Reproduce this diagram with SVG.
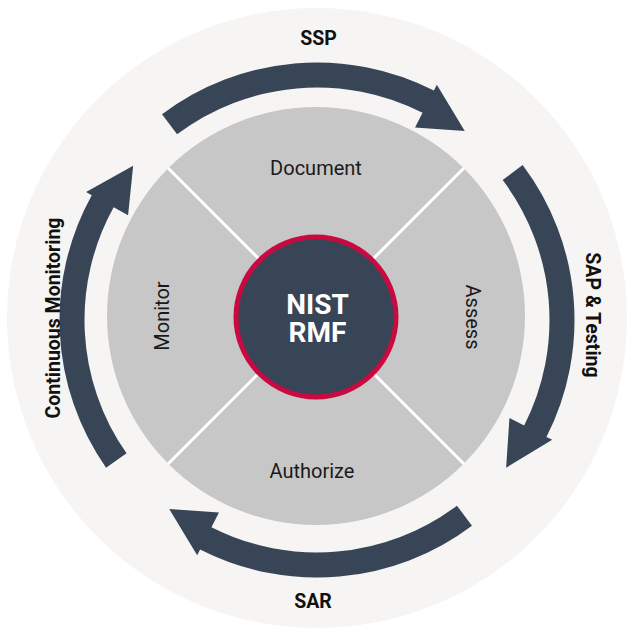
<svg xmlns="http://www.w3.org/2000/svg" xmlns:xlink="http://www.w3.org/1999/xlink" width="637" height="642" viewBox="0 0 637 642">
<style>
.lbl{font-family:Roboto,"Liberation Sans",sans-serif;font-size:20px;fill:#1a1a1a;text-anchor:middle}
.out{font-family:Roboto,"Liberation Sans",sans-serif;font-size:19.5px;font-weight:bold;fill:#111;text-anchor:middle}
.ctr{font-family:Roboto,"Liberation Sans",sans-serif;font-size:28px;font-weight:bold;fill:#fff;text-anchor:middle}
.arrow{fill:#374557}
.div{stroke:#fff;stroke-width:3}
</style>
<defs>
<path id="arr" d="M 162.03 114.35 A 257.5 257.5 0 0 1 433.90 90.56 L 436.85 84.77 L 464.76 130.88 L 415.06 127.54 L 422.55 112.84 A 232.5 232.5 0 0 0 177.08 134.32 Z"/>
</defs>
<rect width="637" height="642" fill="#fff"/>
<g id="outer-ring"><circle cx="317" cy="318" r="310" fill="#f6f5f3"/></g>
<g id="quadrants">
<circle cx="316" cy="316" r="209" fill="#c7c7c7"/>
<line class="div" x1="168" y1="168" x2="464" y2="464"/>
<line class="div" x1="464" y1="168" x2="168" y2="464"/>
</g>
<g id="connectors">
<use xlink:href="#arr" class="arrow"/>
<use xlink:href="#arr" class="arrow" transform="rotate(90 317 320)"/>
<use xlink:href="#arr" class="arrow" transform="rotate(180 317 320)"/>
<use xlink:href="#arr" class="arrow" transform="rotate(272 317 320)"/>
</g>
<g id="document"><text class="lbl" x="316" y="175">Document</text></g>
<g id="assess"><text class="lbl" transform="translate(466,317) rotate(90)">Assess</text></g>
<g id="authorize"><text class="lbl" x="312" y="478">Authorize</text></g>
<g id="monitor"><text class="lbl" transform="translate(169,316) rotate(-90)">Monitor</text></g>
<g id="center">
<circle cx="316" cy="317" r="80" fill="#374557" stroke="#c90a41" stroke-width="5"/>
<text class="ctr" x="317.5" y="313.5">NIST</text>
<text class="ctr" x="317.5" y="342">RMF</text>
</g>
<g id="ssp"><text class="out" x="318.5" y="45">SSP</text></g>
<g id="sap"><text class="out" transform="translate(586,315) rotate(90)">SAP &amp; Testing</text></g>
<g id="sar"><text class="out" x="313" y="608">SAR</text></g>
<g id="cm"><text class="out" transform="translate(60,318) rotate(-90)">Continuous Monitoring</text></g>
</svg>
